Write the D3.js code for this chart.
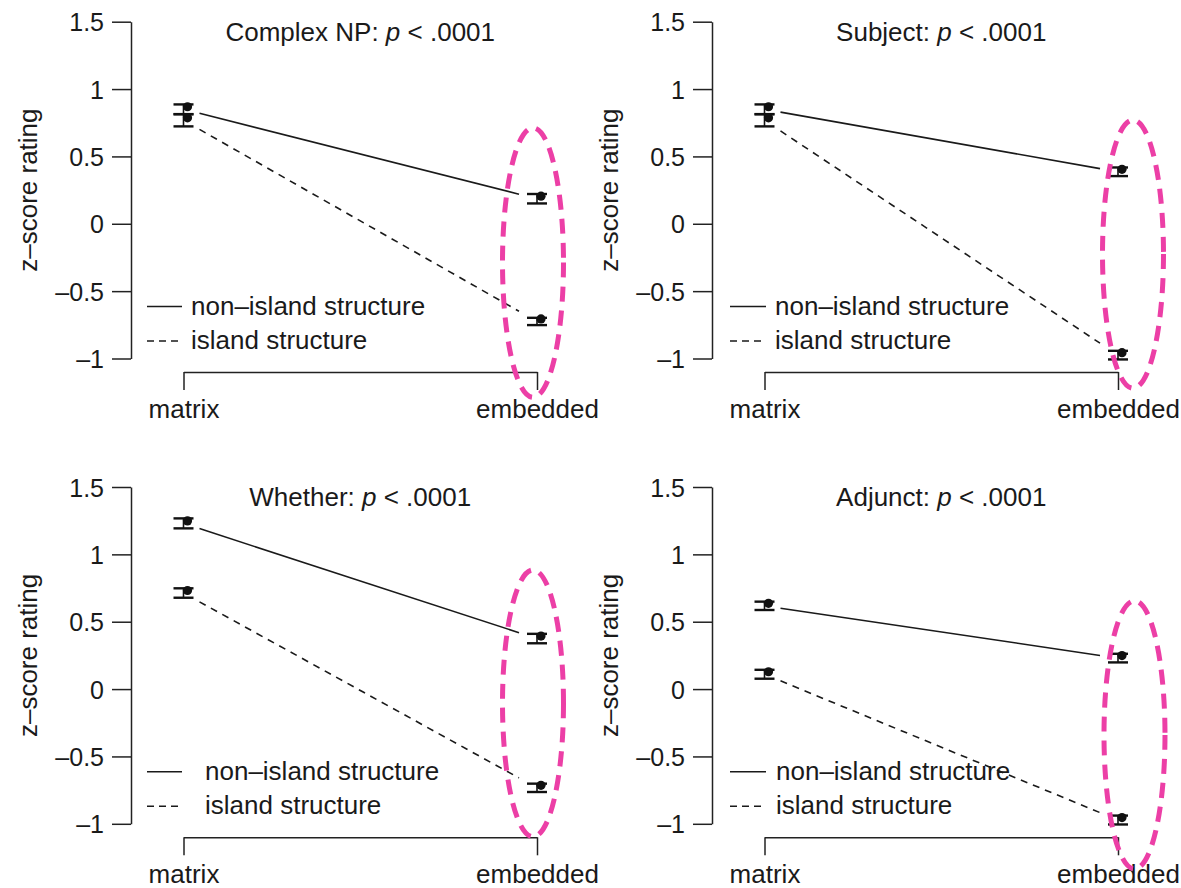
<!DOCTYPE html>
<html>
<head>
<meta charset="utf-8">
<script src="https://cdn.jsdelivr.net/npm/d3@7"></script>
<style>
  html, body { margin: 0; padding: 0; background: #fff; }
  svg text { font-family: "Liberation Sans", Arial, Helvetica, sans-serif; fill: #1a1a1a; }
</style>
</head>
<body>
<svg id="chart" width="1181" height="888"></svg>
<script>
// ---------- data ----------
const categories = ["matrix", "embedded"];
const panelTitles = ["Complex NP", "Subject", "Whether", "Adjunct"];
const pLabel = "< .0001";
const seriesNames = ["non–island structure", "island structure"];
const yTicks = [-1, -0.5, 0, 0.5, 1, 1.5];

// means [matrix, embedded] per panel
const nonIslandMeans = [[0.85, 0.186], [0.85, 0.386], [1.23, 0.375], [0.618, 0.23]];
const islandMeans    = [[0.768, -0.725], [0.768, -0.975], [0.713, -0.733], [0.11, -0.972]];
// standard errors
const nonIslandSE = [[0.036, 0.035], [0.036, 0.032], [0.037, 0.035], [0.031, 0.032]];
const islandSE    = [[0.045, 0.027], [0.045, 0.032], [0.035, 0.031], [0.033, 0.033]];
// highlight ellipse centres (z-score units) around the embedded condition
const highlightCentre = [-0.288, -0.225, -0.106, -0.34];
const highlightHalfHeight = [1.0, 0.995, 0.99, 0.995];

// ---------- layout ----------
const svg = d3.select("#chart");
const panelX = [0, 581, 0, 581];
const panelY = [0, 0, 465.3, 465.3];
const ellipseDx = [-4, 15, -4, 16.5];
const legendTextX = [191, 194, 205, 195];
const legendLineX = [[147, 182], [149, 185], [147, 182], [149, 185]];
const FS = 26;
const TFS = 25;

const y = d3.scaleLinear().domain([-1, 1.5]).range([358.5, 21.7]);
const x = d3.scalePoint().domain(categories).range([183.5, 537]).padding(0);

const fmt = d => (d < 0 ? "–" : "") + d3.format("")(Math.abs(d));

panelTitles.forEach((title, i) => {
  const g = svg.append("g").attr("transform", `translate(${panelX[i]},${panelY[i]})`);

  // y axis
  const ya = g.append("g").attr("transform", "translate(131,0)")
    .call(d3.axisLeft(y).tickValues(yTicks).tickSize(19).tickSizeOuter(0).tickPadding(8).tickFormat(fmt));
  ya.selectAll("path, line").attr("stroke", "#222").attr("stroke-width", 1.5);
  ya.selectAll("text").attr("font-size", TFS).attr("font-family", null).attr("fill", "#1a1a1a").attr("dy", "0.36em");

  // x axis
  const xa = g.append("g").attr("transform", "translate(0,372)")
    .call(d3.axisBottom(x).tickSize(18).tickSizeOuter(0));
  xa.selectAll("path, line").attr("stroke", "#222").attr("stroke-width", 1.5);
  xa.selectAll("text").attr("font-size", FS).attr("font-family", null).attr("fill", "#1a1a1a")
    .attr("y", 45.5).attr("dy", 0);

  // y label
  g.append("text")
    .attr("transform", `translate(37,${(y(-1) + y(1.5)) / 2}) rotate(-90)`)
    .attr("text-anchor", "middle").attr("font-size", FS)
    .text("z–score rating");

  // title
  const t = g.append("text")
    .attr("x", (x("matrix") + x("embedded")) / 2)
    .attr("y", 41).attr("text-anchor", "middle").attr("font-size", FS);
  t.append("tspan").text(title + ": ");
  t.append("tspan").attr("font-style", "italic").text("p");
  t.append("tspan").text(" " + pLabel);

  // series
  const series = [
    { means: nonIslandMeans[i], se: nonIslandSE[i], dash: null },
    { means: islandMeans[i], se: islandSE[i], dash: "7,6" }
  ];
  series.forEach(s => {
    const x0 = x(categories[0]), x1 = x(categories[1]);
    const y0 = y(s.means[0]), y1 = y(s.means[1]);
    const ta = 16 / (x1 - x0), tb = 1 - 18 / (x1 - x0);
    g.append("line")
      .attr("x1", x0 + (x1 - x0) * ta).attr("y1", y0 + (y1 - y0) * ta)
      .attr("x2", x0 + (x1 - x0) * tb).attr("y2", y0 + (y1 - y0) * tb)
      .attr("stroke", "#1a1a1a").attr("stroke-width", 1.6)
      .attr("stroke-dasharray", s.dash);

    categories.forEach((c, j) => {
      const cx = x(c), m = s.means[j], e = s.se[j];
      const eg = g.append("g");
      eg.append("line").attr("x1", cx).attr("x2", cx)
        .attr("y1", y(m + e)).attr("y2", y(m - e))
        .attr("stroke", "#111").attr("stroke-width", 1.6);
      [m + e, m - e].forEach(v => {
        eg.append("line").attr("x1", cx - 10).attr("x2", cx + 10)
          .attr("y1", y(v)).attr("y2", y(v))
          .attr("stroke", "#111").attr("stroke-width", 2.4);
      });
      eg.append("circle").attr("cx", cx + 4).attr("cy", y(m) - 2.5).attr("r", 4.6).attr("fill", "#111");
    });
  });

  // legend
  const lg = g.append("g");
  [{ yy: 306.5, dash: null }, { yy: 341, dash: "7,5" }].forEach((d, k) => {
    lg.append("line").attr("x1", legendLineX[i][0]).attr("x2", legendLineX[i][1])
      .attr("y1", d.yy).attr("y2", d.yy)
      .attr("stroke", "#1a1a1a").attr("stroke-width", 1.5).attr("stroke-dasharray", d.dash);
    lg.append("text").attr("x", legendTextX[i]).attr("y", d.yy + 8)
      .attr("font-size", FS).text(seriesNames[k]);
  });

  // highlight ellipse
  const cy = y(highlightCentre[i]);
  const ry = y(0) - y(highlightHalfHeight[i]);
  g.append("ellipse")
    .attr("cx", x("embedded") + ellipseDx[i]).attr("cy", cy)
    .attr("rx", 30.5).attr("ry", ry)
    .attr("fill", "none").attr("stroke", "#ec3fa6").attr("stroke-width", 5)
    .attr("stroke-dasharray", "15,9");
});
</script>
</body>
</html>
